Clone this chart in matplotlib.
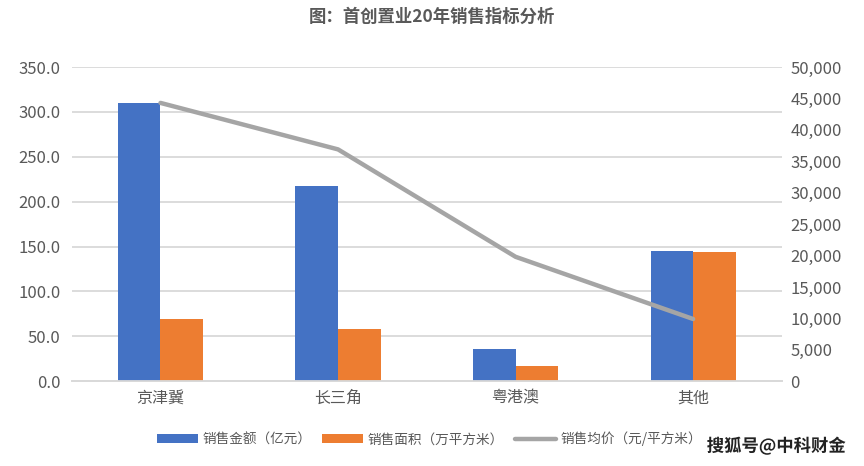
import matplotlib
matplotlib.use("Agg")
import matplotlib.pyplot as plt
import matplotlib.ticker as mticker
import matplotlib.patheffects as pe
import numpy as np

plt.rcParams['font.family'] = ['Noto Sans CJK SC', 'DejaVu Sans']

regions = ["京津冀", "长三角", "粤港澳", "其他"]
sales_amount = [309.5, 217.0, 36.0, 145.5]      # 亿元
sales_area = [69.5, 58.5, 17.0, 144.5]          # 万平方米
avg_price = [44300, 36900, 19800, 9900]         # 元/平方米

grey = "#595959"
fig = plt.figure(figsize=(8.64, 4.66), dpi=100)
ax = fig.add_axes([0.083, 0.182, 0.822, 0.674])
ax2 = ax.twinx()

x = np.arange(len(regions))
w = 0.24
b1 = ax.bar(x - w / 2, sales_amount, w, color="#4472C4", label="销售金额（亿元）", zorder=3)
b2 = ax.bar(x + w / 2, sales_area, w, color="#ED7D31", label="销售面积（万平方米）", zorder=3)
ln, = ax2.plot(x, avg_price, color="#A5A5A5", lw=3.2, label="销售均价（元/平方米）",
               solid_capstyle="round", zorder=4)

ax.set_xlim(-0.5, 3.5)
ax.set_ylim(0, 350)
ax.set_yticks(np.arange(0, 351, 50))
ax.yaxis.set_major_formatter(mticker.FormatStrFormatter("%.1f"))
ax2.set_ylim(0, 50000)
ax2.set_yticks(np.arange(0, 50001, 5000))
ax2.yaxis.set_major_formatter(mticker.StrMethodFormatter("{x:,.0f}"))

ax.set_xticks(x)
ax.set_xticklabels(regions)
ax.grid(axis="y", color="#D9D9D9", lw=1.3, zorder=0)
ax.set_axisbelow(True)

for a in (ax, ax2):
    for s in ("top", "left", "right"):
        a.spines[s].set_visible(False)
    a.spines["bottom"].set_color("#D9D9D9")
    a.spines["bottom"].set_linewidth(1.3)
    a.tick_params(length=0, labelsize=12, colors=grey)
ax.tick_params(axis="y", pad=8)
ax2.tick_params(axis="y", pad=6)
ax.tick_params(axis="x", pad=6, labelsize=11.5)

fig.text(0.5, 0.965, "图：首创置业20年销售指标分析", ha="center", va="center",
         fontsize=12.5, fontweight="bold", color=grey)

fig.legend(handles=[b1, b2, ln], loc="center", bbox_to_anchor=(0.497, 0.058), ncol=3,
           frameon=False, fontsize=9.8, labelcolor=grey, handlelength=3.0,
           handletextpad=0.35, columnspacing=0.8)

fig.text(0.979, 0.043, "搜狐号@中科财金", ha="right", va="center", fontsize=12.5,
         fontweight="bold", color="#222222",
         path_effects=[pe.withStroke(linewidth=2.5, foreground="white")])

fig.savefig("out.png", dpi=100)
